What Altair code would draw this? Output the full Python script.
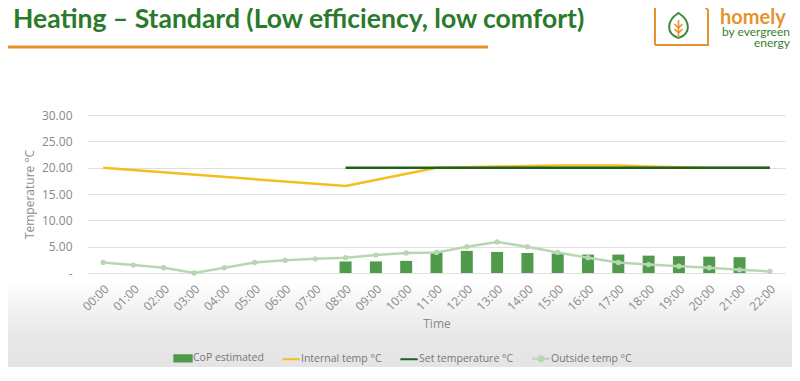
import altair as alt
import pandas as pd

# ---------------- data ----------------
hours = ["00:00", "01:00", "02:00", "03:00", "04:00", "05:00", "06:00", "07:00",
         "08:00", "09:00", "10:00", "11:00", "12:00", "13:00", "14:00", "15:00",
         "16:00", "17:00", "18:00", "19:00", "20:00", "21:00", "22:00"]
cop_estimated = [None, None, None, None, None, None, None, None,
                 2.2, 2.2, 2.3, 3.9, 4.2, 4.0, 3.8, 3.7, 3.5, 3.5, 3.3, 3.2, 3.1, 3.0, None]
internal_temp = [20.0, None, None, None, None, None, None, None,
                 16.5, None, None, 20.0, 20.1, 20.2, 20.3, 20.4, 20.4, 20.4, 20.2, 20.1, 20.0, 20.0, 20.0]
set_temp = [None, None, None, None, None, None, None, None,
            20.0, 20.0, 20.0, 20.0, 20.0, 20.0, 20.0, 20.0, 20.0, 20.0, 20.0, 20.0, 20.0, 20.0, 20.0]
outside_temp = [2.0, 1.5, 1.0, 0.0, 1.0, 2.0, 2.4, 2.7, 2.9, 3.4, 3.8, 3.9,
                5.0, 5.9, 5.0, 3.9, 2.9, 2.0, 1.6, 1.3, 1.0, 0.6, 0.3]
series_names = ["CoP estimated", "Internal temp \u00b0C", "Set temperature \u00b0C", "Outside temp \u00b0C"]
series_colors = ["#4f9a4b", "#f2bf1d", "#1f5f1f", "#b7d7b2"]
y_ticks = [0, 5, 10, 15, 20, 25, 30]
title_text = "Heating \u2013 Standard (Low efficiency, low comfort)"

rows = []
for name, vals in zip(series_names, [cop_estimated, internal_temp, set_temp, outside_temp]):
    for h, v in zip(hours, vals):
        if v is not None:
            rows.append({"hour": h, "value": v, "series": name})
df = pd.DataFrame(rows)
one = pd.DataFrame({"k": [0]})

GREY = "#8a8a8a"
FONT = "Open Sans"

x_axis = alt.Axis(title="Time", labelAngle=-45, labelFont=FONT, labelFontSize=12,
                  labelColor=GREY, ticks=False, domain=False, grid=False,
                  labelPadding=10, labelOverlap=False, titleFont=FONT, titleFontSize=12,
                  titleFontWeight="normal", titleColor=GREY, titlePadding=6, zindex=1)
y_axis = alt.Axis(title="Temperature \u00b0C", values=y_ticks, tickCount=7, labelOverlap=False,
                  labelExpr="datum.value == 0 ? '-\u00a0\u00a0\u00a0' : format(datum.value, '.2f')",
                  labelFont=FONT, labelFontSize=12, labelColor=GREY, ticks=False,
                  domain=False, gridColor="#e0e0e0", gridWidth=1, labelPadding=16,
                  titleFont=FONT, titleFontSize=12, titleFontWeight="normal",
                  titleColor=GREY, titlePadding=5)


def xe():
    return alt.X("hour:O", sort=hours,
                 scale=alt.Scale(domain=hours, paddingInner=0, paddingOuter=0), axis=x_axis)


def ye():
    return alt.Y("value:Q", scale=alt.Scale(domain=[0, 30]), axis=y_axis)


sym_expr = ("datum.value == 'CoP estimated' ? 'M-1,-0.36H1V0.36H-1Z' : "
            "(datum.value == 'Outside temp \u00b0C' ? "
            "'M-1,0H1M0.28,0A0.28,0.28,0,1,1,-0.28,0A0.28,0.28,0,1,1,0.28,0' : 'M-1,0H1')")
legend = alt.Legend(title=None, orient="none", legendX=85, legendY=233, direction="horizontal",
                    columns=4, labelFont=FONT, labelFontSize=10.5, labelColor="#777777",
                    labelOffset=0, symbolType={"expr": sym_expr}, symbolSize=300,
                    symbolStrokeWidth=2, symbolOpacity=1,
                    symbolFillColor={"expr": "scale('color', datum.value)"},
                    symbolStrokeColor={"expr": "scale('color', datum.value)"},
                    columnPadding=14, padding=0, zindex=1)


def ce():
    return alt.Color("series:N", scale=alt.Scale(domain=series_names, range=series_colors),
                     legend=legend)


base = alt.Chart(df)

# background gradient at the bottom
bg = alt.Chart(one).mark_rect(
    fill=alt.Gradient(gradient="linear", x1=0, x2=0, y1=0, y2=1,
                      stops=[alt.GradientStop(color="#ffffff", offset=0),
                             alt.GradientStop(color="#e8e8e8", offset=0.55),
                             alt.GradientStop(color="#e3e3e3", offset=1)])
).encode(x=alt.value(-80), x2=alt.value(712), y=alt.value(165), y2=alt.value(262))

bars = base.transform_filter(alt.datum.series == series_names[0]).mark_bar(size=12).encode(
    x=xe(), y=ye(), color=ce())
internal = base.transform_filter(alt.datum.series == series_names[1]).mark_line(strokeWidth=2.5).encode(
    x=xe(), y=ye(), color=ce())
setl = base.transform_filter(alt.datum.series == series_names[2]).mark_line(strokeWidth=2.5).encode(
    x=xe(), y=ye(), color=ce())
outside = base.transform_filter(alt.datum.series == series_names[3]).mark_line(
    strokeWidth=2.5, point=alt.OverlayMarkDef(size=28, filled=True, opacity=1)).encode(
    x=xe(), y=ye(), color=ce())

# header decorations
title = alt.Chart(one).mark_text(text=title_text, font="Lato", fontSize=26.5, fontWeight="bold",
                                 color="#2b7a2b", align="left", baseline="alphabetic").encode(
    x=alt.value(-75), y=alt.value(-87))
underline = alt.Chart(one).mark_rule(color="#ec8f2b", strokeWidth=3).encode(
    x=alt.value(-81), x2=alt.value(400), y=alt.value(-68))
homely = alt.Chart(one).mark_text(text="homely", font="Lato", fontSize=20, fontWeight="bold",
                                  color="#e8922e", align="left", baseline="alphabetic").encode(
    x=alt.value(632), y=alt.value(-91))
by_ev = alt.Chart(one).mark_text(text="by evergreen", font="Lato", fontSize=12, color="#3a7d2e",
                                 align="right", baseline="alphabetic").encode(
    x=alt.value(702), y=alt.value(-79.5))
energy = alt.Chart(one).mark_text(text="energy", font="Lato", fontSize=12, color="#3a7d2e",
                                  align="right", baseline="alphabetic").encode(
    x=alt.value(702), y=alt.value(-68))
house_path = "M-28,20L-28,-19L-21,-26M-28,20L25,20L25,-15L19,-21"
house = alt.Chart(one).mark_point(shape=house_path, filled=False, stroke="#e8922e", strokeWidth=2,
                                  opacity=1, size=4).encode(x=alt.value(595), y=alt.value(-90))
plug = alt.Chart(one).mark_point(shape="M15,-23L19,-27L22,-24L18,-20Z", filled=True, fill="#e8922e",
                                 opacity=1, size=4).encode(x=alt.value(595), y=alt.value(-90))
leaf = alt.Chart(one).mark_point(shape="M-4.5,-12C8,-4 8,9 -4.5,13C-17,9 -17,-4 -4.5,-12Z",
                                 filled=False, stroke="#3a8a3a", strokeWidth=2, opacity=1,
                                 size=4).encode(x=alt.value(595), y=alt.value(-90))
tree = alt.Chart(one).mark_point(
    shape="M-4.5,-5L-4.5,13M-8.5,-1L-4.5,3L-0.5,-1M-8.5,4L-4.5,8L-0.5,4",
    filled=False, stroke="#e8922e", strokeWidth=1.6, opacity=1, size=4).encode(
    x=alt.value(595), y=alt.value(-90))

chart = alt.layer(bg, bars, internal, setl, outside, title, underline, homely, by_ev, energy,
                  house, plug, leaf, tree).properties(
    width=697, height=158,
    autosize=alt.AutoSizeParams(type="none"),
    padding={"left": 80, "top": 107, "right": 7, "bottom": 94},
    background="#ffffff",
).configure_view(stroke=None)

chart.save("out.html", embed_options={"renderer": "svg", "actions": False})
